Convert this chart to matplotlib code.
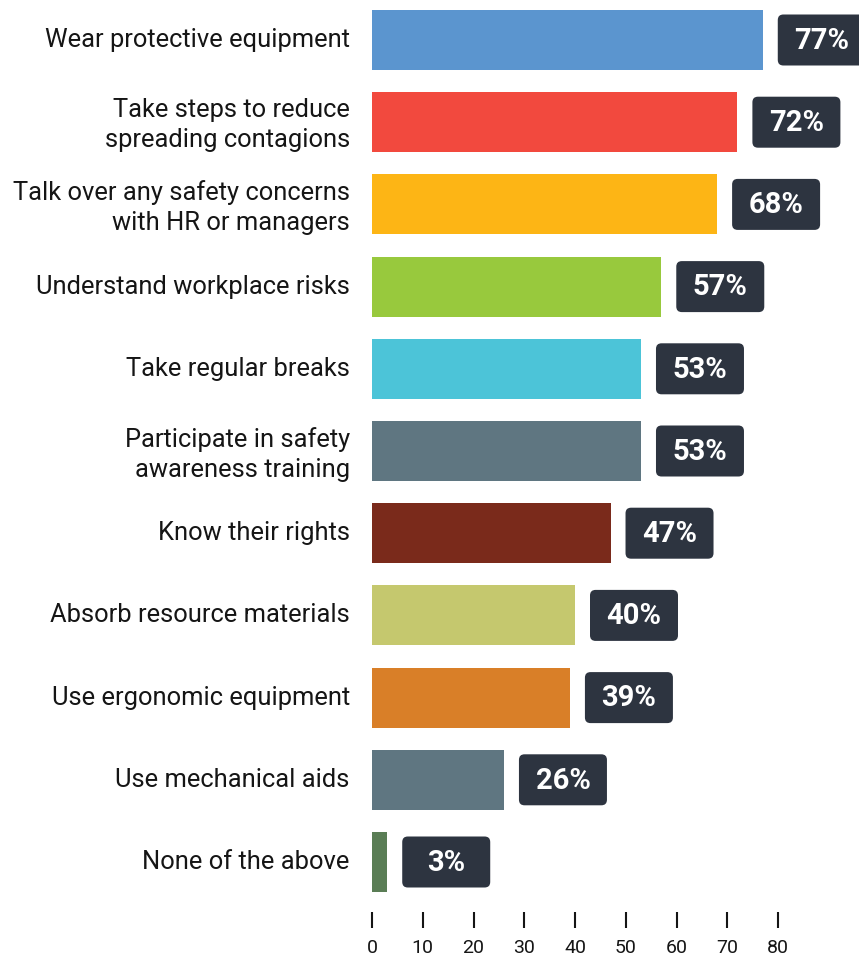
import matplotlib
matplotlib.use("Agg")
import matplotlib.pyplot as plt
from matplotlib.patches import FancyBboxPatch

plt.rcParams['font.family'] = ['Roboto', 'DejaVu Sans']

# survey answers, top to bottom
labels = [
    "Wear protective equipment",
    "Take steps to reduce\nspreading contagions",
    "Talk over any safety concerns\nwith HR or managers",
    "Understand workplace risks",
    "Take regular breaks",
    "Participate in safety\nawareness training",
    "Know their rights",
    "Absorb resource materials",
    "Use ergonomic equipment",
    "Use mechanical aids",
    "None of the above",
]
values = [77, 72, 68, 57, 53, 53, 47, 40, 39, 26, 3]
colors = ["#5b95cf", "#f2493e", "#fdb515", "#98c93d", "#4cc4d8", "#5f7681",
          "#7a2a1b", "#c5c86e", "#d97f28", "#5f7681", "#5a7d55"]
xticks = [0, 10, 20, 30, 40, 50, 60, 70, 80]

W, H = 859, 956
fig = plt.figure(figsize=(W / 100, H / 100), dpi=100)
ax = fig.add_axes([372 / W, 1 - 912 / H, 1 - 372 / W, 912 / H])

ypos = list(range(len(values)))
ax.barh(ypos, values, height=0.73, color=colors)

xmax = (W - 372) / 5.075
ax.set_xlim(0, xmax)
ax.set_ylim((912 - 40) / 82.2, -40 / 82.2)

# value boxes: fixed width, offset from bar end
px_x = 5.075   # pixels per x unit
px_y = 82.2    # pixels per row
box_w = 88 / px_x
box_h = 51 / px_y
gap = 15 / px_x
for y, v in zip(ypos, values):
    x0 = v + gap
    box = FancyBboxPatch((x0, y - box_h / 2), box_w, box_h,
                         boxstyle="round,pad=0,rounding_size=1.1",
                         mutation_aspect=px_x / px_y,
                         facecolor="#2d3440", edgecolor="none", clip_on=False)
    ax.add_patch(box)
    ax.text(x0 + box_w / 2, y + 0.01, f"{v}%", ha="center", va="center",
            color="white", fontsize=21, fontweight="bold")

ax.set_yticks([y - 0.03 for y in ypos])
ax.set_yticklabels(labels, fontsize=18.4, linespacing=1.32, color="#151515")
ax.tick_params(axis="y", length=0, pad=16)

ax.set_xticks(xticks)
ax.set_xticklabels([str(t) for t in xticks], fontsize=14, color="#151515")
ax.tick_params(axis="x", direction="out", length=11.5, width=1.5, pad=8,
               color="#151515")

for s in ax.spines.values():
    s.set_visible(False)

fig.savefig("out.png", dpi=100)
